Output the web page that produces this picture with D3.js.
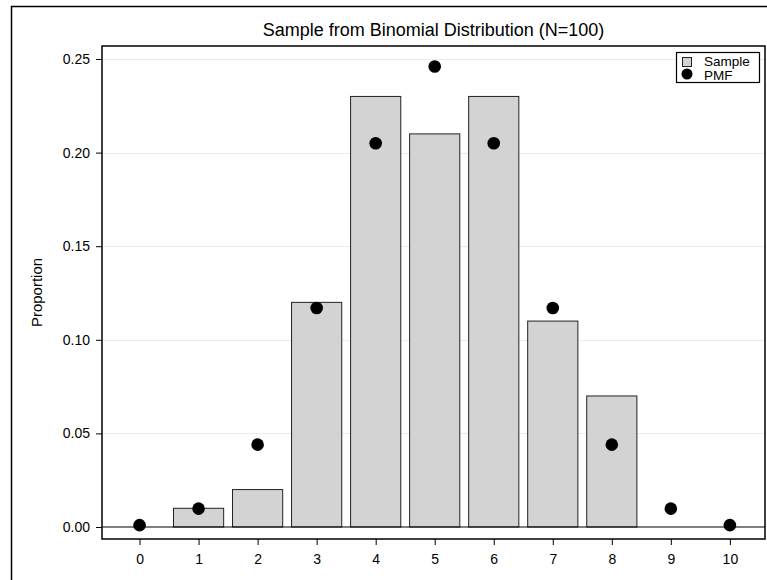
<!DOCTYPE html>
<html>
<head>
<meta charset="utf-8">
<script src="https://cdn.jsdelivr.net/npm/d3@7"></script>
<style>
  body { margin: 0; background: #fff; }
  text { font-family: "Liberation Sans", Arial, sans-serif; fill: #000; }
</style>
</head>
<body>
<script>
// data
var counts = [0, 1, 2, 3, 4, 5, 6, 7, 8, 9, 10];
var sample = [0, 0.01, 0.02, 0.12, 0.23, 0.21, 0.23, 0.11, 0.07, 0, 0];
var pmf = [0.001, 0.0098, 0.044, 0.117, 0.205, 0.246, 0.205, 0.117, 0.044, 0.0098, 0.001];
var yTicks = [0, 0.05, 0.10, 0.15, 0.20, 0.25];

var W = 767, H = 580;
var pLeft = 102, pRight = 765, pTop = 46, pBottom = 539;

var svg = d3.select("body").append("svg").attr("width", W).attr("height", H);

// outer frame
svg.append("rect")
  .attr("x", 11.5).attr("y", 6.5)
  .attr("width", 800).attr("height", 600)
  .attr("fill", "none").attr("stroke", "#000").attr("stroke-width", 1.5);

var xScale = d3.scaleLinear().domain([-0.636, 10.595]).range([pLeft, pRight]);
var yScale = d3.scaleLinear().domain([0, 0.25]).range([527, 59]);

// gridlines
svg.selectAll("line.grid")
  .data(yTicks.slice(1))
  .enter()
  .append("line")
  .attr("class", "grid")
  .attr("x1", pLeft).attr("x2", pRight)
  .attr("y1", function(d) { return Math.round(yScale(d)) + 0.5; })
  .attr("y2", function(d) { return Math.round(yScale(d)) + 0.5; })
  .attr("stroke", "#ebebeb");

// bars
var bw = 0.85;
svg.selectAll("rect.bar")
  .data(counts.filter(function(d, i) { return sample[i] > 0; }))
  .enter()
  .append("rect")
  .attr("class", "bar")
  .attr("x", function(d) { return xScale(d - bw / 2); })
  .attr("width", xScale(bw) - xScale(0))
  .attr("y", function(d) { return yScale(sample[d]); })
  .attr("height", function(d) { return yScale(0) - yScale(sample[d]); })
  .attr("fill", "#d3d3d3")
  .attr("stroke", "#222")
  .attr("stroke-width", 1);

// zero line
svg.append("line")
  .attr("x1", pLeft).attr("x2", pRight)
  .attr("y1", yScale(0)).attr("y2", yScale(0))
  .attr("stroke", "#000").attr("stroke-width", 1.2);

// pmf dots
svg.selectAll("circle.pmf")
  .data(counts)
  .enter()
  .append("circle")
  .attr("class", "pmf")
  .attr("cx", function(d) { return xScale(d); })
  .attr("cy", function(d) { return yScale(pmf[d]); })
  .attr("r", 6.3)
  .attr("fill", "#000");

// plot frame
svg.append("rect")
  .attr("x", pLeft).attr("y", pTop)
  .attr("width", pRight - pLeft).attr("height", pBottom - pTop)
  .attr("fill", "none").attr("stroke", "#000").attr("stroke-width", 1.5);

// axes
var xAxis = d3.axisBottom(xScale).tickValues(counts).tickSize(6).tickPadding(9).tickFormat(d3.format("d"));
var yAxis = d3.axisLeft(yScale).tickValues(yTicks).tickSize(6).tickPadding(6).tickFormat(d3.format(".2f"));

var gx = svg.append("g")
  .attr("transform", "translate(0," + pBottom + ")")
  .call(xAxis);
var gy = svg.append("g")
  .attr("transform", "translate(" + pLeft + ",0)")
  .call(yAxis);

[gx, gy].forEach(function(g) {
  g.attr("font-size", null).attr("font-family", null);
  g.select(".domain").remove();
  g.selectAll(".tick line").attr("stroke", "#000");
  g.selectAll(".tick text").style("font-size", "14px").style("fill", "#000");
});

// title
svg.append("text")
  .attr("x", (pLeft + pRight) / 2)
  .attr("y", 36)
  .attr("text-anchor", "middle")
  .style("font-size", "18px")
  .text("Sample from Binomial Distribution (N=100)");

// y label
svg.append("text")
  .attr("transform", "translate(42," + ((pTop + pBottom) / 2) + ") rotate(-90)")
  .attr("text-anchor", "middle")
  .style("font-size", "15px")
  .text("Proportion");

// legend
var lg = svg.append("g").attr("transform", "translate(676,52)");
lg.append("rect")
  .attr("x", 0.5).attr("y", 0.5).attr("width", 83).attr("height", 30)
  .attr("fill", "#fff").attr("stroke", "#000").attr("stroke-width", 1.2);
lg.append("rect")
  .attr("x", 6.5).attr("y", 5.5).attr("width", 9).attr("height", 9)
  .attr("fill", "#d3d3d3").attr("stroke", "#222");
lg.append("text").attr("x", 28).attr("y", 14).style("font-size", "13.5px").text("Sample");
lg.append("circle").attr("cx", 11).attr("cy", 22).attr("r", 5.5).attr("fill", "#000");
lg.append("text").attr("x", 28).attr("y", 28).style("font-size", "13.5px").text("PMF");
</script>
</body>
</html>
